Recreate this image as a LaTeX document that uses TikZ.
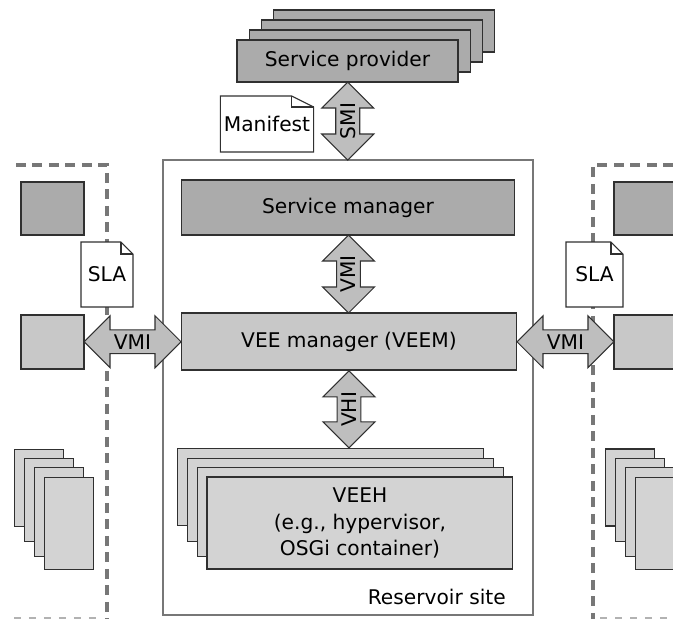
\documentclass[tikz,border=0pt]{standalone}
\usepackage{fontspec}
\setmainfont{DejaVu Sans}
\usetikzlibrary{positioning,calc,shapes.arrows}
\definecolor{resDark}{HTML}{ABABAB}
\definecolor{resMid}{HTML}{C8C8C8}
\definecolor{resLight}{HTML}{D3D3D3}
\definecolor{resArrow}{HTML}{BEBEBE}
\definecolor{resEdge}{HTML}{303030}
\definecolor{resFrame}{HTML}{777777}
% outline of a sheet with a folded top right corner
\newcommand{\docfold}[3]{%
  \draw[docline] (#1.north west) -- ([xshift=-#2]#1.north east) -- ([yshift=-#3]#1.north east) -- (#1.south east) -- (#1.south west) -- cycle;
  \draw[docline] ([xshift=-#2]#1.north east) |- ([yshift=-#3]#1.north east);}

\begin{document}
\begin{tikzpicture}[x=0.02cm,y=-0.02cm,font=\fontsize{11.5}{14}\selectfont,
  box/.style={draw=resEdge,fill=#1,line width=0.6pt,inner sep=2pt,align=center,outer sep=0pt},
  doc/.style={fill=white,inner sep=2pt,outer sep=0pt},
  docline/.style={draw=resEdge,line width=0.6pt,line join=miter},
  fat/.style={double arrow,double arrow head extend=0.19cm,draw=resEdge,fill=resArrow,line width=0.6pt,minimum width=1.04cm,inner sep=0pt,outer sep=0pt},
  zone/.style={draw=resFrame,line width=1.8pt,dash pattern=on 0.2cm off 0.13cm},
  rim/.style={draw=black!30,line width=0.6pt,dash pattern=on 0.14cm off 0.16cm}]
  \useasboundingbox (0,0) rectangle (673,619);

  % neighbouring sites
  \draw[zone] (16,165) -| (107,619);
  \draw[rim] (14,618) -- (97,618);
  \draw[zone] (673,165) -| (593,619);
  \draw[rim] (600,618) -- (673,618);

  \node[draw=resFrame,line width=1.6pt,minimum width=7.4cm,minimum height=9.1cm,outer sep=0pt] (site) at (348,387.5) {};

  % service provider
  \foreach \i in {3,2,1}
    \node[box=resDark,minimum width=4.42cm,minimum height=0.84cm] (sp\i) at ({347.5+12.3*\i},{61-10*\i}) {};
  \node[box=resDark,minimum width=4.42cm,minimum height=0.84cm] (sp) at (347.5,61) {Service provider};
  \node[doc,minimum width=1.84cm,minimum height=1.12cm] (man) at (267,124) {Manifest};
  \docfold{man}{0.44cm}{0.22cm}

  % reservoir site
  \node[box=resDark,minimum width=6.68cm,minimum height=1.1cm] (sm) at (348,207.5) {Service manager};
  \node[box=resMid,minimum width=6.72cm,minimum height=1.14cm] (veem) at (349,341.5) {VEE manager (VEEM)};
  \foreach \i/\h in {3/1.54cm,2/1.66cm,1/1.78cm}
    \node[box=resLight,minimum width=6.12cm,minimum height=\h,anchor=north west] (veeh\i) at ({207-9.8*\i},{477-9.4*\i}) {};
  \node[box=resLight,minimum width=6.12cm,minimum height=1.84cm,anchor=north west,font=\fontsize{11.5}{15}\selectfont] (veeh) at (207,477) {VEEH\\(e.g., hypervisor,\\OSGi container)};
  \node[anchor=east] (rsite) at ([xshift=-0.42cm,yshift=0.36cm]site.south east) {Reservoir site};

  % left site
  \node[box=resDark,minimum width=1.26cm,minimum height=1.06cm] (ltop) at (52.5,208.5) {};
  \node[box=resMid,minimum width=1.26cm,minimum height=1.08cm] (lmid) at (52.5,342) {};
  \foreach \i/\h in {3/1.54cm,2/1.66cm,1/1.78cm,0/1.84cm}
    \node[box=resLight,minimum width=0.98cm,minimum height=\h,anchor=north west] (lvm\i) at ({44.3-9.8*\i},{477.3-9.4*\i}) {};
  \node[doc,minimum width=1.04cm,minimum height=1.3cm] (lsla) at (107,274.5) {SLA};
  \docfold{lsla}{0.24cm}{0.24cm}

  % right site
  \node[box=resDark,minimum width=1.72cm,minimum height=1.06cm] (rtop) at (657,208.5) {};
  \node[box=resMid,minimum width=1.72cm,minimum height=1.08cm] (rmid) at (657,342) {};
  \foreach \i/\h in {0/1.54cm,1/1.66cm,2/1.78cm,3/1.84cm}
    \node[box=resLight,minimum width=0.98cm,minimum height=\h,anchor=north west] (rvm\i) at ({605.7+9.8*\i},{449+9.4*\i}) {};
  \node[doc,minimum width=1.14cm,minimum height=1.3cm] (rsla) at (594.5,274.5) {SLA};
  \docfold{rsla}{0.24cm}{0.24cm}

  % interfaces
  \node[fat,rotate=90,minimum height=1.56cm] (smi) at ($(sp.south)!.5!(site.north)$) {SMI};
  \node[fat,rotate=90,minimum height=1.56cm] (vmi) at ($(sm.south)!.5!(veem.north)$) {VMI};
  \node[fat,rotate=90,minimum height=1.54cm] (vhi) at ($(veem.south)!.5!(veem.south |- veeh3.north)$) {VHI};
  \node[fat,minimum height=1.94cm] (vmil) at ($(lmid.east)!.5!(veem.west)$) {VMI};
  \node[fat,minimum height=1.94cm] (vmir) at ($(veem.east)!.5!(rmid.west)$) {VMI};
\end{tikzpicture}
\end{document}
